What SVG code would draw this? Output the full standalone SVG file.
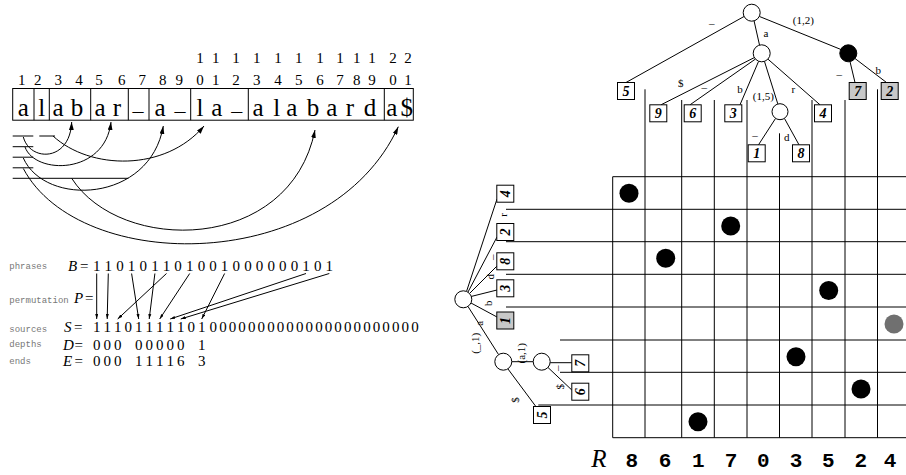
<svg xmlns="http://www.w3.org/2000/svg" width="906" height="475" viewBox="0 0 906 475">
<defs>
<style>
.s{font-family:"Liberation Serif",serif;fill:#000}
.m{font-family:"Liberation Mono",monospace;font-size:9px;fill:#777}
.ln{stroke:#000;stroke-width:1;fill:none}
.g{stroke:#000;stroke-width:1;fill:none}
.nd{fill:#fff;stroke:#000;stroke-width:1}
.bx{fill:#fff;stroke:#000;stroke-width:1}
.bxg{fill:#c8c8c8;stroke:#000;stroke-width:1}
.lf{font-family:"Liberation Serif",serif;font-size:14px;font-weight:bold;font-style:italic;text-anchor:middle}
.lb{font-family:"Liberation Serif",serif;font-size:11px;text-anchor:middle}
.dot{fill:#000}
.rd{font-family:"Liberation Mono",monospace;font-size:21px;font-weight:bold;text-anchor:middle}
</style>
<marker id="ah" viewBox="0 0 10 6" refX="10" refY="3" markerWidth="8" markerHeight="5" markerUnits="userSpaceOnUse" orient="auto"><path d="M0,0 L10,3 L0,6 z" fill="#000"/></marker>
<marker id="ahs" viewBox="0 0 10 6" refX="10" refY="3" markerWidth="5" markerHeight="3.5" markerUnits="userSpaceOnUse" orient="auto"><path d="M0,0 L10,3 L0,6 z" fill="#000"/></marker>
</defs>
<rect width="906" height="475" fill="#fff"/>

<!-- position numbers -->
<g id="positions" class="s" font-size="15" text-anchor="middle">
<text y="63" x="200 215.7 236 256.7 278 298.7 320 340 356.7 372 393 408">111111111122</text>
<text y="85" x="21.7 37.7 58.3 79 99 121.7 142.3 162.7 179.3 200 215.7 236 256.7 278 298.7 320 340 356.7 372 393 408">123456789012345678901</text>
</g>

<!-- string box -->
<g id="string">
<rect x="12.7" y="88.5" width="400.6" height="31.7" class="ln"/>
<path class="ln" d="M34,88.5V120.2M49.3,88.5V120.2M90.7,88.5V120.2M128.3,88.5V120.2M149,88.5V120.2M190.7,88.5V120.2M248.3,88.5V120.2M384.3,88.5V120.2"/>
<g class="s" font-size="25" text-anchor="middle">
<text y="116" x="23.3 41.7 58 77 100 117">alabar</text>
<text y="116" x="160">a</text>
<text y="116" x="200 216.7">la</text>
<text y="116" x="258 276.7 291.7 313 331.7 350 370 391.7 406.7">alabarda$</text>
</g>
<g class="s" font-size="22" text-anchor="middle">
<text y="110" x="138">_</text>
<text y="110" x="180">_</text>
<text y="110" x="236.7">_</text>
</g>
</g>

<!-- source underlines and arcs -->
<g id="arcs">
<path class="ln" d="M12.7,136H33.3M39.3,136H55M12.7,146.7H33.3M12.7,157.2H33.3M12.7,167.8H33.3M12.7,178.3H128.3"/>
<path class="ln" marker-end="url(#ah)" d="M23.3,137 C30,162 70,162 71.7,122"/>
<path class="ln" marker-end="url(#ah)" d="M25,147 C35,175 105,175 111,122"/>
<path class="ln" marker-end="url(#ah)" d="M53,136 C90,170 165,172 204,126"/>
<path class="ln" marker-end="url(#ah)" d="M23.3,158 C45,207 150,203 163.3,126"/>
<path class="ln" marker-end="url(#ah)" d="M71.7,178.3 C120,254 290,254 315,130"/>
<path class="ln" marker-end="url(#ah)" d="M23.3,168.5 C80,275 330,275 398.3,126.7"/>
</g>

<!-- bit vectors -->
<g id="vectors">
<text class="m" x="9.3" y="269">phrases</text>
<text class="m" x="9.3" y="303">permutation</text>
<text class="m" x="9.3" y="331.5">sources</text>
<text class="m" x="9.3" y="346.5">depths</text>
<text class="m" x="9.3" y="364">ends</text>
<g class="s" font-size="15">
<text x="68" y="270.5" font-style="italic">B</text><text x="80" y="270.5">=</text>
<text x="74" y="303" font-style="italic">P</text><text x="85" y="303">=</text>
<text x="64" y="332" font-style="italic">S</text><text x="74" y="332">=</text>
<text x="63" y="350" font-style="italic">D</text><text x="74.5" y="350">=</text>
<text x="63" y="366" font-style="italic">E</text><text x="74.5" y="366">=</text>
</g>
<g class="s" font-size="15" text-anchor="middle">
<text y="270.5" x="96.7 108.3 120 131.6 143.2 154.9 166.5 178.1 189.7 201.4 213 224.6 236.3 247.9 259.5 271.2 282.8 294.4 306 317.7 329.3">110101101001000000101</text>
<text y="332" x="96.7 107.2 117.7 128.2 138.7 149.2 159.7 170.2 180.7 191.2 201.7 213.3 222.9 232.5 242.1 251.7 261.3 270.9 280.5 290.1 299.7 309.3 318.9 328.5 338.1 347.7 357.3 366.9 376.5 386.1 395.7 405.3 414.9">111011111010000000000000000000000</text>
<text y="350" x="96.7 107.2 117.7 138.7 149.2 159.7 170.2 180.7 201.7">000000001</text>
<text y="366" x="96.7 107.2 117.7 138.7 149.2 159.7 170.2 180.7 201.7">000111163</text>
</g>
<g class="ln">
<path marker-end="url(#ahs)" d="M96.7,273.5L96.7,319"/>
<path marker-end="url(#ahs)" d="M108.3,273.5L107.2,319"/>
<path marker-end="url(#ahs)" d="M131.6,273.5L138.7,319"/>
<path marker-end="url(#ahs)" d="M154.9,273.5L149.2,319"/>
<path marker-end="url(#ahs)" d="M166.5,273.5L117.7,319"/>
<path marker-end="url(#ahs)" d="M189.7,273.5L159.7,319"/>
<path marker-end="url(#ahs)" d="M224.6,273.5L201.7,319"/>
<path marker-end="url(#ahs)" d="M306,273.5L170.2,319"/>
<path marker-end="url(#ahs)" d="M329.3,273.5L180.7,319"/>
</g>
</g>

<!-- connectors (tree edges and grid lines) -->
<g id="connectors" class="g">
<!-- top tree -->
<path d="M744,16.5L626,82.5"/>
<path d="M754,20.6L759.5,45"/>
<path d="M759.5,16.5L841,49.5"/>
<path d="M754.5,57.5L661,104.8"/>
<path d="M755.5,59L690,104.8"/>
<path d="M758.5,61.5L740,104.8"/>
<path d="M764.5,61.5L777.8,103.9"/>
<path d="M768,59.2L820,104.8"/>
<path d="M850,61.6L855,82.5"/>
<path d="M855,58.5L886.5,82.5"/>
<path d="M775.5,118.5L758.5,144.8"/>
<path d="M784.5,118.5L799,144.8"/>
<!-- left tree -->
<path d="M466.5,291.5L497,199"/>
<path d="M468,292L497,237"/>
<path d="M469.5,293.5L497,266"/>
<path d="M471,296.5L497,290"/>
<path d="M471,303L497,317"/>
<path d="M468,306.5L498.5,354.5"/>
<path d="M511.8,361.7L533.2,361.7"/>
<path d="M508,369L536,406.7"/>
<path d="M550.2,362.7L571.8,362.7"/>
<path d="M548,367.5L571.8,390"/>
<!-- grid verticals -->
<path d="M612.7,176.7V437.7M645,89.3V437.7M681.7,100V437.7M714.3,100V437.7M747,100V437.7M779.5,133.3V437.7M812,100V437.7M845,100V437.7M877.5,89.3V437.7"/>
<!-- grid horizontals -->
<path d="M612.7,176.7H906M506,209.3H906M506,241.7H906M506,274.3H906M506,307H906M560,340H906M560,372.3H906M538.3,405H906M612.7,437.7H906"/>
</g>

<!-- top tree nodes -->
<g id="t-root"><circle class="nd" cx="751.7" cy="12.7" r="8.5"/></g>
<g id="t-a"><circle class="nd" cx="761.7" cy="53.3" r="8.5"/></g>
<g id="t-black"><circle cx="848.3" cy="53.3" r="8.5" fill="#000" stroke="#000"/></g>
<g id="t-15"><circle class="nd" cx="780" cy="111.7" r="8"/></g>
<g id="t-leaf5"><rect class="bx" x="617.5" y="82.5" width="17" height="17"/><text class="lf" x="626" y="96">5</text></g>
<g id="t-leaf9"><rect class="bx" x="649.8" y="104.8" width="17" height="17"/><text class="lf" x="658.3" y="118.3">9</text></g>
<g id="t-leaf6"><rect class="bx" x="684.2" y="104.8" width="17" height="17"/><text class="lf" x="692.7" y="118.3">6</text></g>
<g id="t-leaf3"><rect class="bx" x="724.8" y="104.8" width="17" height="17"/><text class="lf" x="733.3" y="118.3">3</text></g>
<g id="t-leaf4"><rect class="bx" x="814.5" y="104.8" width="17" height="17"/><text class="lf" x="823" y="118.3">4</text></g>
<g id="t-leaf1"><rect class="bx" x="748.2" y="144.8" width="17" height="17"/><text class="lf" x="756.7" y="158.3">1</text></g>
<g id="t-leaf8"><rect class="bx" x="792.5" y="144.8" width="17" height="17"/><text class="lf" x="801" y="158.3">8</text></g>
<g id="t-leaf7"><rect class="bxg" x="849.2" y="82.5" width="17" height="17"/><text class="lf" x="857.7" y="96">7</text></g>
<g id="t-leaf2"><rect class="bxg" x="881.2" y="82.5" width="17" height="17"/><text class="lf" x="889.7" y="96">2</text></g>
<g id="t-labels">
<text class="lb" x="711.7" y="23">_</text>
<text class="lb" x="766" y="37">a</text>
<text class="lb" x="803.3" y="24">(1,2)</text>
<text class="lb" x="680.7" y="86.5">$</text>
<text class="lb" x="704.3" y="87.3">_</text>
<text class="lb" x="740" y="93">b</text>
<text class="lb" x="763.3" y="100">(1,5)</text>
<text class="lb" x="793.3" y="92.5">r</text>
<text class="lb" x="839.3" y="74">_</text>
<text class="lb" x="878.3" y="74">b</text>
<text class="lb" x="755" y="135">_</text>
<text class="lb" x="786.7" y="140.5">d</text>
</g>

<!-- left tree nodes -->
<g id="l-root"><circle class="nd" cx="463.3" cy="299.3" r="8.5"/></g>
<g id="l-_1"><circle class="nd" cx="503.3" cy="361.7" r="8.5"/></g>
<g id="l-a1"><circle class="nd" cx="541.7" cy="361.7" r="8.5"/></g>
<g id="l-leaf4"><rect class="bx" x="496.8" y="185.2" width="17" height="17"/><text class="lf" transform="translate(505.3,193.7) rotate(-90)" y="5">4</text></g>
<g id="l-leaf2"><rect class="bx" x="496.8" y="223.5" width="17" height="17"/><text class="lf" transform="translate(505.3,232) rotate(-90)" y="5">2</text></g>
<g id="l-leaf8"><rect class="bx" x="496.8" y="252.8" width="17" height="17"/><text class="lf" transform="translate(505.3,261.3) rotate(-90)" y="5">8</text></g>
<g id="l-leaf3"><rect class="bx" x="496.8" y="279.8" width="17" height="17"/><text class="lf" transform="translate(505.3,288.3) rotate(-90)" y="5">3</text></g>
<g id="l-leaf1"><rect class="bxg" x="496.8" y="312" width="17" height="17"/><text class="lf" transform="translate(505.3,320.5) rotate(-90)" y="5">1</text></g>
<g id="l-leaf7"><rect class="bx" x="571.8" y="354.8" width="17" height="17"/><text class="lf" transform="translate(580.3,363.3) rotate(-90)" y="5">7</text></g>
<g id="l-leaf6"><rect class="bx" x="571.8" y="383.2" width="17" height="17"/><text class="lf" transform="translate(580.3,391.7) rotate(-90)" y="5">6</text></g>
<g id="l-leaf5"><rect class="bx" x="533.5" y="406.5" width="17" height="17"/><text class="lf" transform="translate(542,415) rotate(-90)" y="5">5</text></g>
<g id="l-labels">
<text class="lb" transform="translate(503.3,215) rotate(-90)" y="3.5">r</text>
<text class="lb" transform="translate(493.3,257.3) rotate(-90)" y="-1">_</text>
<text class="lb" transform="translate(490.7,276.7) rotate(-90)" y="3.5">d</text>
<text class="lb" transform="translate(488.3,303.3) rotate(-90)" y="3.5">b</text>
<text class="lb" transform="translate(479.3,323.3) rotate(-90)" y="3.5">a</text>
<text class="lb" transform="translate(475,343.3) rotate(-90)" y="3.5">(_,1)</text>
<text class="lb" transform="translate(521.7,353.3) rotate(-90)" y="3.5">(a,1)</text>
<text class="lb" transform="translate(515,400) rotate(-90)" y="3.5">$</text>
<text class="lb" transform="translate(558.3,368.3) rotate(-90)" y="-1">_</text>
<text class="lb" transform="translate(560,386.7) rotate(-90)" y="3.5">$</text>
</g>

<!-- grid points -->
<g id="points">
<circle class="dot" cx="629" cy="193.3" r="9.5"/>
<circle class="dot" cx="730.7" cy="226" r="9.5"/>
<circle class="dot" cx="665.7" cy="258.3" r="9.5"/>
<circle class="dot" cx="828.7" cy="290.5" r="9.5"/>
<circle cx="894" cy="324" r="9.5" fill="#707070"/>
<circle class="dot" cx="796" cy="356.7" r="9.5"/>
<circle class="dot" cx="861" cy="389" r="9.5"/>
<circle class="dot" cx="698" cy="421.7" r="9.5"/>
</g>

<!-- R row -->
<g id="rrow">
<text class="s" x="599" y="466.7" font-size="25" font-style="italic" text-anchor="middle">R</text>
<text class="rd" y="466.7" x="631.7 665 698.3 731 763.3 796 828.3 860.7 890">861703524</text>
</g>
</svg>
